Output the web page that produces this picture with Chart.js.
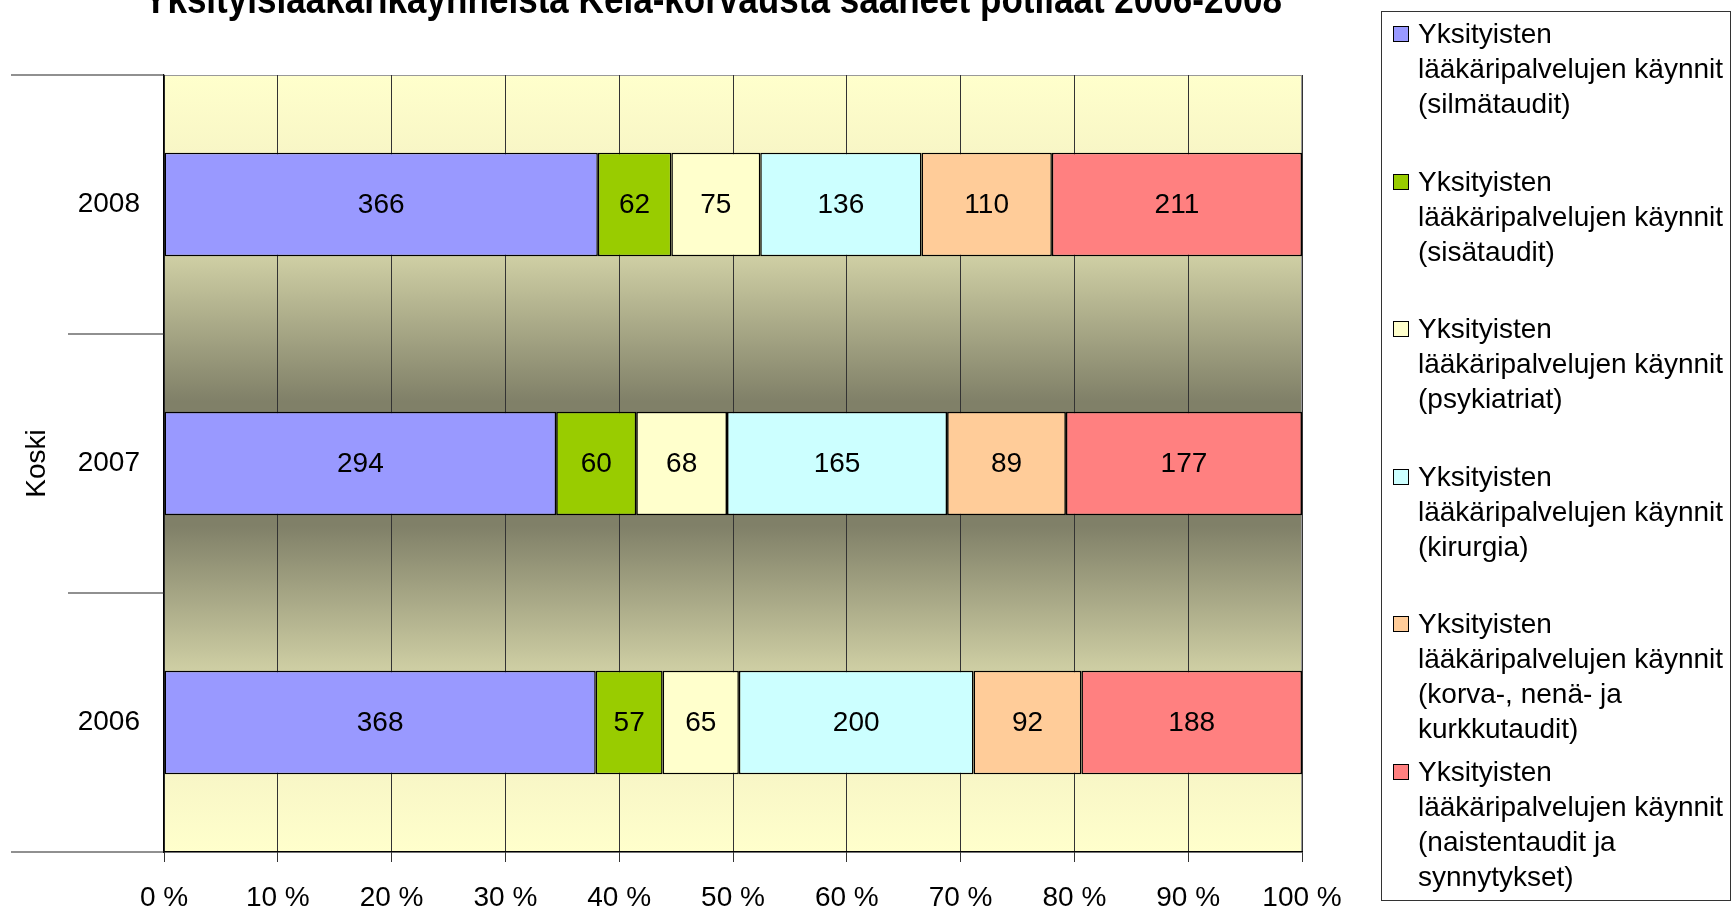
<!DOCTYPE html>
<html>
<head>
<meta charset="utf-8">
<script src="https://cdn.jsdelivr.net/npm/chart.js@4"></script>
<style>
  body { margin: 0; width: 1733px; height: 910px; overflow: hidden; background: #fff; position: relative; font-family: "Liberation Sans", Arial, sans-serif; }
  #chart { position: absolute; left: 0; top: 0; }
  #legend { position: absolute; left: 1381px; top: 11px; width: 350px; height: 890px; border: 1px solid #333; box-sizing: border-box; }
  .item { position: absolute; left: 11px; font-size: 28px; line-height: 35px; white-space: pre; color: #000; }
  .item .sw { position: absolute; left: 0; top: 10px; width: 14px; height: 14px; border: 1px solid #000; }
  .item .tx { margin-left: 25px; }
</style>
</head>
<body>
<canvas id="chart" width="1426" height="910"></canvas>
<div id="legend"></div>
<script>
const chartTitle = 'Yksityislääkärikäynneistä Kela-korvausta saaneet potilaat 2006-2008';
const years = ['2008', '2007', '2006'];
const silmataudit = [366, 294, 368];
const sisataudit = [62, 60, 57];
const psykiatriat = [75, 68, 65];
const kirurgia = [136, 165, 200];
const kno = [110, 89, 92];
const naistentaudit = [211, 177, 188];
const seriesNames = [
  'Yksityisten\nlääkäripalvelujen käynnit\n(silmätaudit)',
  'Yksityisten\nlääkäripalvelujen käynnit\n(sisätaudit)',
  'Yksityisten\nlääkäripalvelujen käynnit\n(psykiatriat)',
  'Yksityisten\nlääkäripalvelujen käynnit\n(kirurgia)',
  'Yksityisten\nlääkäripalvelujen käynnit\n(korva-, nenä- ja\nkurkkutaudit)',
  'Yksityisten\nlääkäripalvelujen käynnit\n(naistentaudit ja\nsynnytykset)'
];
const seriesColors = ['#9999FF', '#99CC00', '#FFFFCC', '#CCFFFF', '#FFCC99', '#FF8080'];
const allSeries = [silmataudit, sisataudit, psykiatriat, kirurgia, kno, naistentaudit];

const FONT = 'Liberation Sans';
const totals = years.map((y, i) => allSeries.reduce((s, arr) => s + arr[i], 0));

const datasets = allSeries.map((arr, k) => ({
  label: seriesNames[k],
  data: arr.map((v, i) => v / totals[i] * 100),
  rawValues: arr,
  backgroundColor: seriesColors[k],
  borderColor: '#000',
  borderWidth: 1.5,
  borderSkipped: false,
  barPercentage: 0.4,
  categoryPercentage: 1
}));

// --- plot background gradient, title, left category lines ---
const backdrop = {
  id: 'backdrop',
  beforeDraw(chart) {
    const {ctx, chartArea: a} = chart;
    const g = ctx.createLinearGradient(0, a.top, 0, a.bottom);
    g.addColorStop(0, '#FFFFCC');
    g.addColorStop(0.1, '#F8F6C6');
    g.addColorStop(0.24, '#CCCCA2');
    g.addColorStop(0.42, '#808068');
    g.addColorStop(0.58, '#808068');
    g.addColorStop(0.76, '#CCCCA2');
    g.addColorStop(0.9, '#F8F6C6');
    g.addColorStop(1, '#FFFFCC');
    ctx.save();
    ctx.fillStyle = g;
    ctx.fillRect(a.left, a.top, a.right - a.left, a.bottom - a.top);
    ctx.strokeStyle = '#999';
    ctx.lineWidth = 1;
    ctx.strokeRect(a.left + 0.5, a.top + 0.5, a.right - a.left - 1, a.bottom - a.top);
    // title, condensed and partly above the page edge like the original
    ctx.font = 'bold 40px "' + FONT + '"';
    ctx.fillStyle = '#000';
    ctx.textAlign = 'center';
    ctx.textBaseline = 'alphabetic';
    const sx = 1138 / ctx.measureText(chartTitle).width;
    ctx.translate(713, 13);
    ctx.scale(sx, 1);
    ctx.fillText(chartTitle, 0, 0);
    ctx.restore();
  },
  afterDraw(chart) {
    const {ctx, chartArea: a} = chart;
    const y = chart.scales.y;
    ctx.save();
    ctx.strokeStyle = '#222';
    ctx.lineWidth = 1.2;
    const line = (x0, yy) => { ctx.beginPath(); ctx.moveTo(x0, yy); ctx.lineTo(a.left, yy); ctx.stroke(); };
    line(11, a.top);
    line(11, a.bottom);
    for (let i = 0; i < years.length - 1; i++) {
      line(68, (y.getPixelForTick(i) + y.getPixelForTick(i + 1)) / 2);
    }
    ctx.restore();
  }
};

// --- value labels inside bars ---
const valueLabels = {
  id: 'valueLabels',
  afterDatasetsDraw(chart) {
    const {ctx} = chart;
    ctx.save();
    ctx.font = '28px "' + FONT + '"';
    ctx.fillStyle = '#000';
    ctx.textAlign = 'center';
    ctx.textBaseline = 'middle';
    chart.data.datasets.forEach((ds, k) => {
      chart.getDatasetMeta(k).data.forEach((bar, i) => {
        const p = bar.getCenterPoint();
        ctx.fillText(ds.rawValues[i], p.x, p.y + 1);
      });
    });
    ctx.restore();
  }
};

const chart = new Chart(document.getElementById('chart'), {
  type: 'bar',
  data: { labels: years, datasets: datasets },
  options: {
    indexAxis: 'y',
    responsive: false,
    animation: false,
    devicePixelRatio: 1,
    layout: { padding: { left: 0, right: 124, top: 75, bottom: 0 } },
    plugins: {
      legend: { display: false },
      tooltip: { enabled: false },
      title: { display: false }
    },
    scales: {
      x: {
        stacked: true,
        min: 0,
        max: 100,
        ticks: {
          stepSize: 10,
          color: '#000',
          font: { family: FONT, size: 28 },
          padding: 19,
          callback: v => v + ' %'
        },
        grid: { color: '#333', lineWidth: 1, tickLength: 10 },
        border: { color: '#000', width: 1.2 },
        afterFit: s => { s.height = 58; }
      },
      y: {
        stacked: true,
        ticks: { color: '#000', font: { family: FONT, size: 28 }, padding: 24 },
        grid: { display: false, drawTicks: false },
        border: { color: '#000', width: 1.2 },
        title: {
          display: true,
          text: 'Koski',
          color: '#000',
          font: { family: FONT, size: 28 },
          padding: { top: 20, bottom: 0 }
        },
        afterFit: s => { s.width = 164; }
      }
    }
  },
  plugins: [backdrop, valueLabels]
});

// --- HTML legend built from the chart's datasets ---
const legendEl = document.getElementById('legend');
chart.data.datasets.forEach((ds, k) => {
  const item = document.createElement('div');
  item.className = 'item';
  item.style.top = (4 + k * 147.6) + 'px';
  const sw = document.createElement('span');
  sw.className = 'sw';
  sw.style.background = ds.backgroundColor;
  const tx = document.createElement('div');
  tx.className = 'tx';
  tx.textContent = ds.label;
  item.appendChild(sw);
  item.appendChild(tx);
  legendEl.appendChild(item);
});
</script>
</body>
</html>
